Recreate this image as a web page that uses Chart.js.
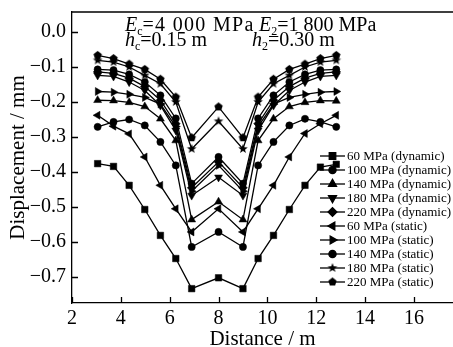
<!DOCTYPE html>
<html>
<head>
<meta charset="utf-8">
<script src="https://cdn.jsdelivr.net/npm/chart.js"></script>
<style>
html, body { margin: 0; padding: 0; background: #fff; }
</style>
</head>
<body>
<canvas id="graficoDesplazamiento" width="453" height="347"></canvas>
<script>
// Distancia (m) de cada punto de medida
const distancia = [3.05, 3.7, 4.34, 4.98, 5.62, 6.25, 6.9, 8.0, 9.0, 9.62, 10.25, 10.9, 11.54, 12.17, 12.82]

// Desplazamiento (mm) por caso de carga
const dinamico60  = [-0.376, -0.384, -0.438, -0.507, -0.581, -0.647, -0.733, -0.702, -0.733, -0.647, -0.581, -0.507, -0.438, -0.386, -0.378]
const dinamico100 = [-0.107, -0.109, -0.121, -0.143, -0.181, -0.247, -0.433, -0.357, -0.433, -0.247, -0.181, -0.143, -0.121, -0.109, -0.107]
const dinamico140 = [-0.195, -0.196, -0.201, -0.213, -0.248, -0.31, -0.536, -0.485, -0.536, -0.31, -0.248, -0.213, -0.201, -0.196, -0.197]
const dinamico180 = [-0.124, -0.127, -0.143, -0.167, -0.21, -0.281, -0.467, -0.415, -0.467, -0.281, -0.21, -0.167, -0.143, -0.127, -0.124]
const dinamico220 = [-0.114, -0.118, -0.132, -0.156, -0.195, -0.262, -0.445, -0.371, -0.445, -0.262, -0.195, -0.156, -0.132, -0.118, -0.114]
const estatico60  = [-0.238, -0.269, -0.291, -0.357, -0.438, -0.505, -0.571, -0.505, -0.571, -0.505, -0.438, -0.357, -0.29, -0.262, -0.238]
const estatico100 = [-0.17, -0.172, -0.178, -0.187, -0.206, -0.27, -0.455, -0.381, -0.455, -0.27, -0.206, -0.187, -0.178, -0.172, -0.17]
const estatico140 = [-0.271, -0.257, -0.25, -0.267, -0.314, -0.381, -0.614, -0.571, -0.614, -0.381, -0.314, -0.267, -0.248, -0.257, -0.271]
const estatico180 = [-0.081, -0.086, -0.1, -0.124, -0.148, -0.2, -0.334, -0.255, -0.334, -0.2, -0.148, -0.124, -0.1, -0.086, -0.081]
const estatico220 = [-0.067, -0.076, -0.092, -0.107, -0.135, -0.186, -0.302, -0.214, -0.302, -0.186, -0.135, -0.107, -0.092, -0.076, -0.067]

const etiquetas = ['60 MPa (dynamic)', '100 MPa (dynamic)', '140 MPa (dynamic)', '180 MPa (dynamic)', '220 MPa (dynamic)',
                   '60 MPa (static)', '100 MPa (static)', '140 MPa (static)', '180 MPa (static)', '220 MPa (static)']
const series = [dinamico60, dinamico100, dinamico140, dinamico180, dinamico220,
                estatico60, estatico100, estatico140, estatico180, estatico220]

const ticksX = [2, 4, 6, 8, 10, 12, 14, 16]
const ticksY = [0, -0.1, -0.2, -0.3, -0.4, -0.5, -0.6, -0.7]

const fuente = "'Liberation Serif', 'Times New Roman', serif"

// marcadores que Chart.js no trae: estrella de cinco puntas y pentagono
function marcador(puntas, radio, interior) {
  const c = document.createElement('canvas')
  const lado = Math.ceil(radio * 2) + 2
  c.width = lado; c.height = lado
  const g = c.getContext('2d')
  g.fillStyle = '#000'
  g.beginPath()
  const n = interior ? puntas * 2 : puntas
  for (let i = 0; i < n; i++) {
    const r = interior && i % 2 ? interior : radio
    const a = -Math.PI / 2 + i * Math.PI * 2 / n
    const px = lado / 2 + r * Math.cos(a), py = lado / 2 + r * Math.sin(a)
    i ? g.lineTo(px, py) : g.moveTo(px, py)
  }
  g.closePath()
  g.fill()
  return c
}
const estrella = marcador(5, 5, 2.1)
const pentagono = marcador(5, 4.4)

const estilos = [
  {pointStyle: 'rect', radius: 4.6, rotation: 0},
  {pointStyle: 'circle', radius: 3.6, rotation: 0},
  {pointStyle: 'triangle', radius: 4.6, rotation: 0},
  {pointStyle: 'triangle', radius: 4.6, rotation: 180},
  {pointStyle: 'rectRot', radius: 4.4, rotation: 0},
  {pointStyle: 'triangle', radius: 4.6, rotation: -90},
  {pointStyle: 'triangle', radius: 4.6, rotation: 90},
  {pointStyle: 'circle', radius: 3.6, rotation: 0},
  {pointStyle: estrella, radius: 4.5, rotation: 0},
  {pointStyle: pentagono, radius: 4.5, rotation: 0},
]

const datasets = series.map((valores, i) => ({
  label: etiquetas[i],
  data: valores.map((v, k) => ({x: distancia[k], y: v})),
  borderColor: '#000',
  backgroundColor: '#000',
  borderWidth: 1.3,
  pointStyle: estilos[i].pointStyle,
  pointRadius: estilos[i].radius,
  pointRotation: estilos[i].rotation,
  pointBorderWidth: 0.5,
  tension: 0
}))

// ticks hacia dentro y borde superior del marco
const marcasInternas = {
  id: 'marcasInternas',
  afterDraw(chart) {
    const {ctx, chartArea: a, scales: {x, y}} = chart
    ctx.save()
    ctx.strokeStyle = '#000'
    ctx.lineWidth = 1.3
    ctx.beginPath()
    x.ticks.forEach(t => {
      const px = Math.round(x.getPixelForValue(t.value)) + 0.5
      ctx.moveTo(px, a.bottom); ctx.lineTo(px, a.bottom - 6)
    })
    y.ticks.forEach(t => {
      const py = Math.round(y.getPixelForValue(t.value)) + 0.5
      ctx.moveTo(a.left, py); ctx.lineTo(a.left + 6, py)
    })
    ctx.moveTo(a.left, a.top); ctx.lineTo(a.right, a.top)
    ctx.stroke()
    ctx.restore()
  }
}

// leyenda con linea + marcador dentro del area del grafico
const leyenda = {
  id: 'leyenda',
  afterDatasetsDraw(chart) {
    const ctx = chart.ctx
    ctx.save()
    ctx.font = '13px ' + fuente
    ctx.textBaseline = 'middle'
    chart.data.datasets.forEach((ds, i) => {
      const yy = 156 + i * 14
      ctx.strokeStyle = '#000'; ctx.fillStyle = '#000'; ctx.lineWidth = 1.3
      ctx.beginPath(); ctx.moveTo(320, yy); ctx.lineTo(345, yy); ctx.stroke()
      Chart.helpers.drawPoint(ctx, {pointStyle: ds.pointStyle, radius: ds.pointRadius, rotation: ds.pointRotation, borderWidth: 0.5}, 332.5, yy)
      ctx.fillStyle = '#000'
      ctx.fillText(ds.label, 347, yy + 0.5)
    })
    ctx.restore()
  }
}

// parametros del pavimento arriba del grafico
const parametros = {
  id: 'parametros',
  afterDraw(chart) {
    const ctx = chart.ctx
    ctx.save()
    ctx.fillStyle = '#000'
    ctx.textBaseline = 'alphabetic'
    const escribir = (piezas, x0, yb, esp) => {
      let x = x0
      piezas.forEach(([texto, tipo]) => {
        let dy = 0
        ctx.letterSpacing = '0px'
        if (tipo === 'i') ctx.font = 'italic 20px ' + fuente
        else if (tipo === 's') { ctx.font = '12px ' + fuente; dy = 4 }
        else { ctx.font = '20px ' + fuente; ctx.letterSpacing = (esp || 0) + 'px' }
        ctx.fillText(texto, x, yb + dy)
        x += ctx.measureText(texto).width
      })
    }
    escribir([['E', 'i'], ['c', 's'], ['=4 000 MPa', 'n']], 125, 31, 1.3)
    escribir([['E', 'i'], ['2', 's'], ['=1 800 MPa', 'n']], 259, 31)
    escribir([['h', 'i'], ['c', 's'], ['=0.15 m', 'n']], 125, 46)
    escribir([['h', 'i'], ['2', 's'], ['=0.30 m', 'n']], 252, 46)
    ctx.restore()
  }
}

// sin relleno extra de las escalas: el area del grafico queda fija
const sinRelleno = s => { s.paddingTop = 0; s.paddingBottom = 0; s.paddingLeft = 0; s.paddingRight = 0 }

const grafico = new Chart(document.getElementById('graficoDesplazamiento'), {
  type: 'line',
  data: {datasets: datasets},
  options: {
    responsive: false,
    animation: false,
    devicePixelRatio: 1,
    layout: {autoPadding: false, padding: {left: 0, right: 0, top: 12, bottom: 0}},
    plugins: {legend: {display: false}, tooltip: {enabled: false}},
    scales: {
      x: {
        type: 'linear',
        min: 2,
        max: 17.6,
        afterBuildTicks: s => { s.ticks = ticksX.map(v => ({value: v})) },
        afterFit: s => { s.height = 44; sinRelleno(s) },
        grid: {drawOnChartArea: false, drawTicks: false},
        border: {color: '#000', width: 1.3},
        ticks: {color: '#000', padding: 4, font: {family: fuente, size: 20}, maxRotation: 0},
        title: {display: true, text: 'Distance / m', color: '#000', font: {family: fuente, size: 21}, padding: {top: 0, bottom: -5}}
      },
      y: {
        type: 'linear',
        min: -0.774,
        max: 0.057,
        afterBuildTicks: s => { s.ticks = ticksY.map(v => ({value: v})) },
        afterFit: s => { s.width = 72; sinRelleno(s) },
        grid: {drawOnChartArea: false, drawTicks: false},
        border: {color: '#000', width: 1.3},
        ticks: {
          color: '#000', padding: 6, font: {family: fuente, size: 20},
          callback: v => v === 0 ? '0.0' : '\u2212' + Math.abs(v).toFixed(1)
        },
        title: {display: true, text: 'Displacement / mm', color: '#000', font: {family: fuente, size: 21}, padding: {top: 6, bottom: 0}}
      }
    }
  },
  plugins: [marcasInternas, leyenda, parametros]
})
</script>
</body>
</html>
